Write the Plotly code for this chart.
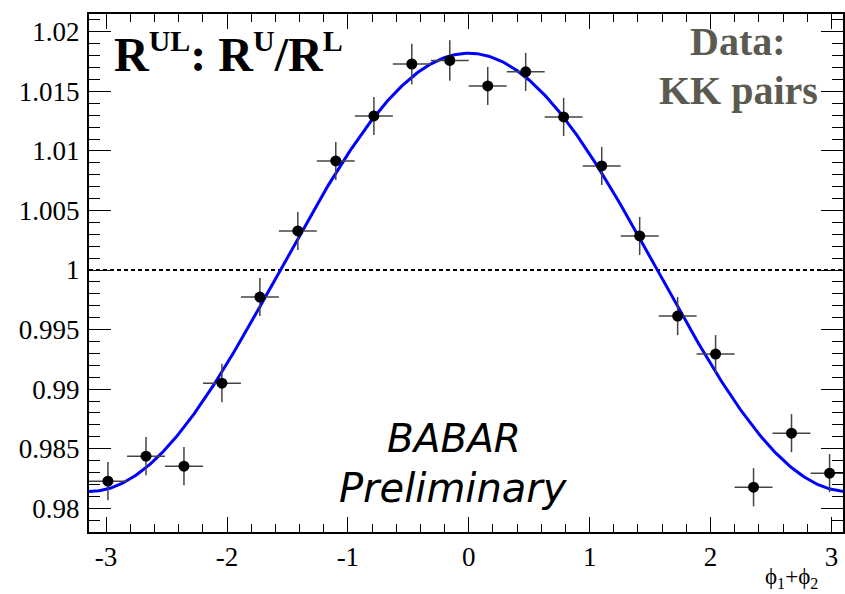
import numpy as np
import plotly.graph_objects as go

# ---- data ----
phi_sum = [-2.985, -2.670, -2.356, -2.042, -1.728, -1.414, -1.100, -0.785, -0.471, -0.157,
           0.157, 0.471, 0.785, 1.100, 1.414, 1.728, 2.042, 2.356, 2.670, 2.985]
ratio_ul = [0.98227, 0.98437, 0.98353, 0.9905, 0.99773, 1.00328, 1.00916, 1.01294, 1.0173, 1.0176,
            1.01546, 1.01664, 1.01286, 1.00874, 1.00286, 0.99613, 0.99294, 0.98176, 0.9863, 0.98294]
ratio_err = [0.0016, 0.0016, 0.0016, 0.0016, 0.0016, 0.0016, 0.0016, 0.0016, 0.0017, 0.0017,
             0.0016, 0.0016, 0.0016, 0.0016, 0.0016, 0.0016, 0.0016, 0.0016, 0.0016, 0.0016]
bin_half_width = [0.157] * 20

# fit: offset + amplitude * cos(phi1+phi2)
fit_offset = 0.9998
fit_amplitude = 0.0184

x_range = [-3.1416, 3.096]
y_range = [0.978, 1.0215]
x_tickvals = [-3, -2, -1, 0, 1, 2, 3]
x_ticktext = ["-3", "-2", "-1", "0", "1", "2", "3"]
y_tickvals = [0.98, 0.985, 0.99, 0.995, 1.0, 1.005, 1.01, 1.015, 1.02]
y_ticktext = ["0.98", "0.985", "0.99", "0.995", "1", "1.005", "1.01", "1.015", "1.02"]

fit_x = np.linspace(-np.pi, np.pi, 400)
fit_y = fit_offset + fit_amplitude * np.cos(fit_x)

serif = "Liberation Serif, Times New Roman, serif"

fig = go.Figure()
fig.add_trace(go.Scatter(
    x=[x_range[0], x_range[1] + 0.1], y=[1, 1], mode="lines",
    line=dict(color="black", width=2, dash="4px,3px"), hoverinfo="skip", showlegend=False))
fig.add_trace(go.Scatter(
    x=fit_x, y=fit_y, mode="lines",
    line=dict(color="#0000ff", width=3), showlegend=False))
fig.add_trace(go.Scatter(
    x=phi_sum, y=ratio_ul, mode="markers",
    marker=dict(color="black", size=11),
    error_y=dict(type="data", array=ratio_err, color="#444444", thickness=1.5, width=0),
    error_x=dict(type="data", array=bin_half_width, color="#444444", thickness=1.5, width=0),
    showlegend=False))

axis_common = dict(
    showline=True, linecolor="black", linewidth=2, mirror="allticks",
    ticks="inside", tickcolor="black", tickwidth=1.2,
    showgrid=False, zeroline=False,
    tickfont=dict(family=serif, size=27, color="black"),
)

fig.update_xaxes(range=x_range, tickmode="array", tickvals=x_tickvals,
                 ticktext=x_ticktext, ticklen=15,
                 minor=dict(dtick=0.2, tick0=0, ticklen=8, ticks="inside", tickcolor="black", tickwidth=1.2),
                 **axis_common)
fig.update_yaxes(range=y_range, tickmode="array",
                 tickvals=y_tickvals, ticktext=y_ticktext,
                 ticklen=22, ticklabelstandoff=2,
                 minor=dict(dtick=0.001, tick0=0.98, ticklen=11, ticks="inside", tickcolor="black", tickwidth=1.2),
                 **axis_common)

sup = lambda s: "<sup><span style=\"font-size:30px\">" + s + "</span></sup>"
fig.add_annotation(xref="paper", yref="paper", x=0.031, y=0.985, xanchor="left", yanchor="top",
                   text="<b>R" + sup("UL") + ": R" + sup("U") + "/R" + sup("L") + "</b>",
                   showarrow=False,
                   font=dict(family=serif, size=48, color="black"))
fig.add_annotation(xref="paper", yref="paper", x=0.861, y=0.995, xanchor="center", yanchor="top",
                   text="<b>Data:</b>", showarrow=False,
                   font=dict(family=serif, size=40, color="#5b5a50"))
fig.add_annotation(xref="paper", yref="paper", x=0.861, y=0.9, xanchor="center", yanchor="top",
                   text="<b>KK pairs</b>", showarrow=False,
                   font=dict(family=serif, size=40, color="#5b5a50"))
fig.add_annotation(xref="paper", yref="paper", x=0.484, y=0.181, xanchor="center", yanchor="middle",
                   text="<i>BABAR</i>", showarrow=False,
                   font=dict(family="DejaVu Sans", size=39, color="black"))
fig.add_annotation(xref="paper", yref="paper", x=0.484, y=0.085, xanchor="center", yanchor="middle",
                   text="<i>Preliminary</i>", showarrow=False,
                   font=dict(family="DejaVu Sans", size=40, color="black"))
fig.add_annotation(xref="paper", yref="paper", x=0.97, y=-0.119, xanchor="right", yanchor="bottom",
                   text="ϕ<sub>1</sub>+ϕ<sub>2</sub>", showarrow=False,
                   font=dict(family=serif, size=23, color="black"))

fig.update_layout(width=845, height=594, margin=dict(l=89, r=0, t=14, b=62),
                  font=dict(family=serif),
                  paper_bgcolor="white", plot_bgcolor="white")

fig.write_html("out.html")
